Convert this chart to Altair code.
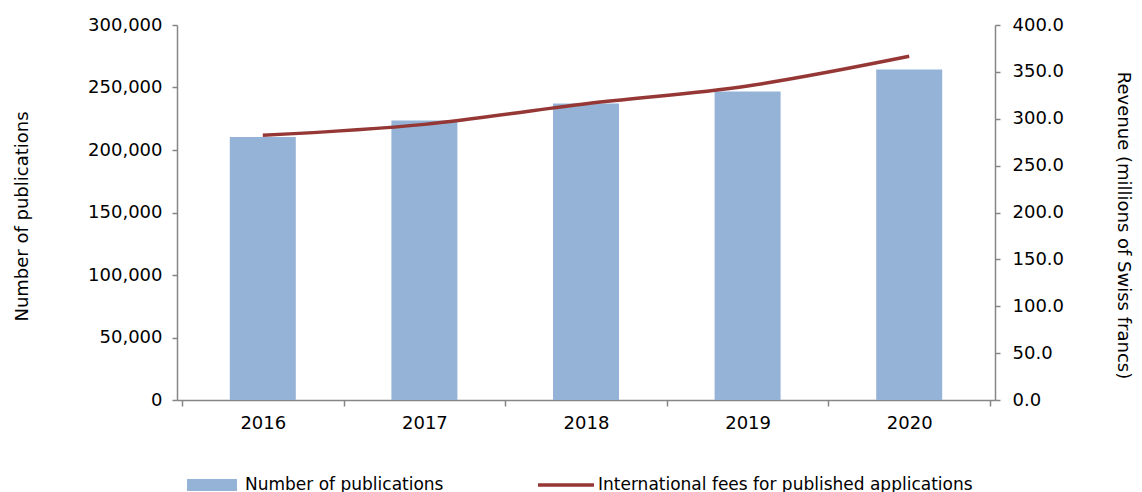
import altair as alt
import pandas as pd

years = [2016, 2017, 2018, 2019, 2020]
publications = [210500, 223600, 237200, 246800, 264400]
fees = [282.3, 294.0, 316.0, 335.0, 366.6]

pub_name = "Number of publications"
fee_name = "International fees for published applications"

df = pd.DataFrame({"year": years, "publications": publications, "fees": fees})

FONT = "DejaVu Sans"
GRAY = "#868686"
BLUE = "#95B3D7"
RED = "#953735"

x_ticks = [2015.5, 2016, 2016.5, 2017, 2017.5, 2018, 2018.5, 2019, 2019.5, 2020, 2020.5]

x_enc = alt.X(
    "year:Q",
    scale=alt.Scale(domain=[2015.5, 2020.5], nice=False, zero=False),
    axis=alt.Axis(
        title=None,
        values=x_ticks,
        labelExpr="datum.value % 1 === 0 ? format(datum.value, 'd') : ''",
        tickOpacity={"condition": {"test": "datum.value % 1 === 0", "value": 0}, "value": 1},
        tickSize=6,
        labelPadding=8,
        labelFlush=False,
        labelOverlap=False,
        grid=False,
    ),
)

base = alt.Chart(df)

bars = base.mark_bar(size=66).transform_calculate(s1=f"'{pub_name}'").encode(
    x=x_enc,
    y=alt.Y(
        "publications:Q",
        scale=alt.Scale(domain=[0, 300000], nice=False),
        axis=alt.Axis(
            title="Number of publications",
            values=[0, 50000, 100000, 150000, 200000, 250000, 300000],
            format=",.0f",
            titlePadding=56,
            titleY=191,
            labelPadding=10,
            grid=False,
        ),
    ),
    fill=alt.Fill(
        "s1:N",
        scale=alt.Scale(domain=[pub_name], range=[BLUE]),
        legend=alt.Legend(
            title=None,
            orient="none",
            legendX=10,
            legendY=435,
            symbolType="M-1,-0.24H1V0.24H-1Z",
            symbolSize=2500,
            symbolStrokeWidth=0,
            labelOffset=8,
            labelLimit=0,
            labelFontSize=17,
            labelFont=FONT,
            labelColor="#000000",
        ),
    ),
)

line = base.mark_line(strokeWidth=3.5, interpolate="monotone").transform_calculate(
    s2=f"'{fee_name}'"
).encode(
    x=x_enc,
    y=alt.Y(
        "fees:Q",
        scale=alt.Scale(domain=[0, 400], nice=False),
        axis=alt.Axis(
            title="Revenue (millions of Swiss francs)",
            orient="right",
            values=[0, 50, 100, 150, 200, 250, 300, 350, 400],
            format=".1f",
            titlePadding=50,
            titleY=200,
            labelPadding=12,
            grid=False,
        ),
    ),
    stroke=alt.Stroke(
        "s2:N",
        scale=alt.Scale(domain=[fee_name], range=[RED]),
        legend=alt.Legend(
            title=None,
            orient="none",
            legendX=359,
            legendY=430,
            symbolType="M-1,0H1",
            symbolSize=3136,
            symbolStrokeWidth=3.5,
            labelOffset=2,
            labelLimit=0,
            labelFontSize=17,
            labelFont=FONT,
            labelColor="#000000",
        ),
    ),
)

chart = (
    alt.layer(bars, line)
    .resolve_scale(y="independent", fill="independent", stroke="independent")
    .properties(
        width=818,
        height=375,
        padding={"left": 5, "top": 8, "right": 2, "bottom": 0},
    )
    .configure_view(stroke=None)
    .configure_axis(
        labelFont=FONT,
        titleFont=FONT,
        labelFontSize=18,
        titleFontSize=18,
        titleFontWeight="normal",
        labelColor="#000000",
        titleColor="#000000",
        domainColor=GRAY,
        tickColor=GRAY,
        domainWidth=1.5,
        tickWidth=1.5,
        tickSize=5,
    )
)

chart.save("out.html", embed_options={"renderer": "svg", "actions": False})
